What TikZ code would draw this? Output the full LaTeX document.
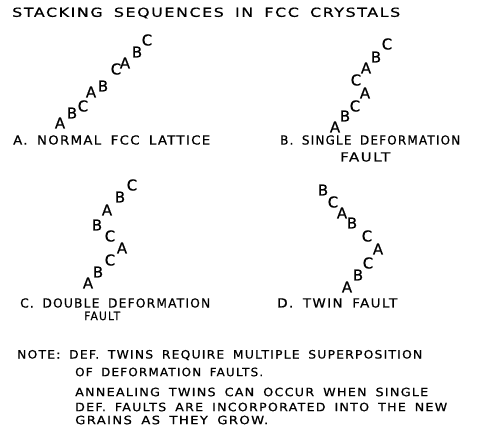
\documentclass[tikz,border=0pt]{standalone}
\usepackage{fontspec}
\setmainfont{DejaVu Sans}[LetterSpace=10,WordSpace=1.7,FakeBold=0.6]
\usepackage{graphicx}
\newcommand\fitw[2]{\resizebox{#1pt}{\height}{#2}}
\begin{document}
\begin{tikzpicture}[x=1pt,y=-1pt,
  lbl/.style={anchor=west,inner sep=0pt,font=\fontsize{12.5}{12.5}\selectfont},
  small/.style={anchor=west,inner sep=0pt,font=\fontsize{11.5}{11.5}\selectfont},
  note/.style={anchor=west,inner sep=0pt,font=\fontsize{11.5}{11.5}\selectfont},
  seq/.style={inner sep=0pt,font=\fontsize{15}{15}\selectfont}]
\fill[white] (0,0) rectangle (480,437);
\useasboundingbox (0,0) rectangle (480,437);
% title
\node[lbl] (title) at (12,13) {\fitw{388}{STACKING SEQUENCES IN FCC CRYSTALS}};
% A
\foreach \l/\x/\y [count=\i] in {A/60/123,B/72/113,C/83/106,A/91/92,B/103/86,C/116/69,A/125/63,B/137/52,C/147/40}
  \node[seq] (a\i) at (\x,\y) {\l};
\node[lbl] (la) at (13,140) {\fitw{197}{A. NORMAL FCC LATTICE}};
% B
\foreach \l/\x/\y [count=\i] in {A/335/127,B/345/116,C/355/106,A/365/93,C/356/80,A/366/68,B/376/57,C/387/44}
  \node[seq] (b\i) at (\x,\y) {\l};
\node[lbl] (lb) at (280,140) {\fitw{180}{B. SINGLE DEFORMATION}};
\node[lbl] (lb2) at (340,157) {\fitw{50}{FAULT}};
% C
\foreach \l/\x/\y [count=\i] in {C/132/185,B/120/197,A/107/210,B/97/225,C/110/236,A/122/248,C/110/260,B/98/272,A/88/283}
  \node[seq] (c\i) at (\x,\y) {\l};
\node[lbl] (lc) at (20,303) {\fitw{190}{C. DOUBLE DEFORMATION}};
\node[small] (lc2) at (84,316) {\fitw{36}{FAULT}};
% D
\foreach \l/\x/\y [count=\i] in {B/323/190,C/333/202,A/342/213,B/352/223,C/367/236,A/378/249,C/368/263,B/358/275,A/347/287}
  \node[seq] (d\i) at (\x,\y) {\l};
\node[lbl] (ld) at (277,303) {\fitw{120}{D. TWIN FAULT}};
% note
\node[note] (n1) at (17,355) {\fitw{405}{NOTE: DEF. TWINS REQUIRE MULTIPLE SUPERPOSITION}};
\node[note] (n2) at (75,372) {\fitw{188}{OF DEFORMATION FAULTS.}};
\node[note] (n3) at (75,392) {\fitw{353}{ANNEALING TWINS CAN OCCUR WHEN SINGLE}};
\node[note] (n4) at (75,407) {\fitw{372}{DEF. FAULTS ARE INCORPORATED INTO THE NEW}};
\node[note] (n5) at (75,420) {\fitw{193}{GRAINS AS THEY GROW.}};
\end{tikzpicture}
\end{document}
